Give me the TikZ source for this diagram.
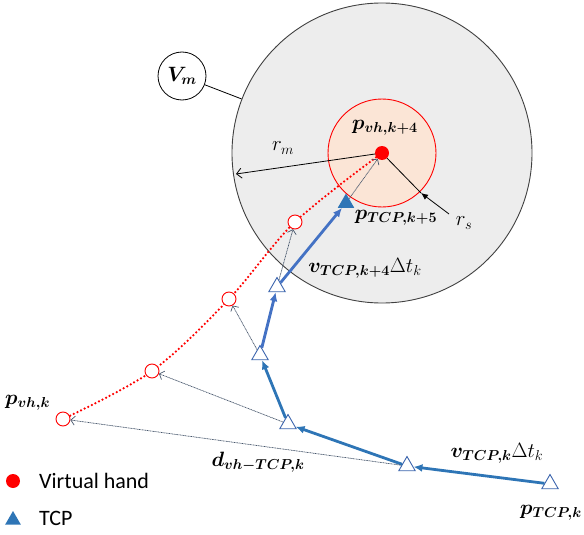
\documentclass[tikz,border=0pt]{standalone}
\usepackage{fontspec}
\usepackage{bm}
\newfontfamily\calib{Carlito}
\usetikzlibrary{arrows.meta,shapes.geometric}
\definecolor{bgray}{HTML}{EDEDED}
\definecolor{peach}{HTML}{FBE5D6}
\definecolor{vred}{HTML}{FF0000}
\definecolor{tblue}{HTML}{2E75B6}
\definecolor{tblueB}{HTML}{4472C4}
\definecolor{tedge}{HTML}{3B64AD}
\definecolor{navy}{HTML}{44546A}
\tikzset{
  hand/.style={circle,draw=vred,fill=white,line width=0.9pt,minimum size=14pt,inner sep=0pt},
  handdot/.style={circle,fill=vred,minimum size=14pt,inner sep=0pt},
  tcp/.style={regular polygon,regular polygon sides=3,draw=tedge,fill=white,line width=0.9pt,minimum size=19pt,inner sep=0pt},
  tcpfill/.style={regular polygon,regular polygon sides=3,fill=tblue,minimum size=19pt,inner sep=0pt},
  move/.style={draw=tblue,line width=2.8pt,-{Latex[length=9pt,width=8pt]}},
  moveB/.style={draw=tblueB,line width=2.8pt,-{Latex[length=9pt,width=8pt]}},
  gap/.style={draw=navy,line width=0.7pt,dash pattern=on 1pt off 0.6pt,-{Straight Barb[length=4pt,width=9pt]}},
  lab/.style={inner sep=0pt,font=\huge},
  leg/.style={inner sep=0pt,anchor=west,font=\calib\fontsize{22}{26}\selectfont},
  radius/.style={draw=black,line width=0.8pt},
}
\begin{document}
\begin{tikzpicture}[x=1pt,y=-1pt]
\useasboundingbox (0,0) rectangle (584,535);
% workspace and safety circles
\node[circle,draw=black!75,fill=bgray,line width=0.9pt,minimum size=300pt,inner sep=0pt] (bigc) at (382,153) {};
\node[circle,draw=vred,fill=peach,line width=0.9pt,minimum size=108pt,inner sep=0pt] (smallc) at (382,153) {};
% V_m label circle
\node[circle,draw=black,fill=white,line width=0.8pt,minimum size=48pt,inner sep=0pt,font=\huge] (Vm) at (182,76) {$\bm{V}_{\bm{m}}$};
\draw[line width=0.8pt] (Vm) -- (bigc);
% positions
\coordinate (H0p) at (63,419);
\coordinate (H1p) at (152,371);
\coordinate (H2p) at (229,299);
\coordinate (H3p) at (295,222);
\coordinate (H4p) at (382,153);
% red dotted trajectory of the virtual hand
\draw[vred,line width=2.5pt,dash pattern=on 0pt off 4pt,line cap=round]
  plot[smooth,tension=0.55] coordinates {(H0p) (H1p) (H2p) (H3p) (H4p)};
% hand nodes
\node[hand] (H0) at (H0p) {};
\node[hand] (H1) at (H1p) {};
\node[hand] (H2) at (H2p) {};
\node[hand] (H3) at (H3p) {};
% TCP nodes
\node[tcp] (T0) at (550,484) {};
\node[tcp] (T1) at (407,466) {};
\node[tcp] (T2) at (288,424) {};
\node[tcp] (T3) at (260,355) {};
\node[tcp] (T4) at (277,287) {};
\node[tcpfill] (T5) at (346,203) {};
% radii
\coordinate (rmEnd) at (236,174);
\draw[radius,-{Straight Barb[length=5pt,width=10pt]}] (H4p) -- (rmEnd);
\coordinate (rsEdge) at (421,193);
\coordinate (rsTail) at (449,214);
\draw[radius] (H4p) -- (rsEdge);
\draw[radius,-{Latex[length=7pt,width=6pt]}] (rsTail) -- (rsEdge);
% red dot
\node[handdot] (H4) at (H4p) {};
% TCP motion
\draw[move] (T0) -- (T1);
\draw[move] (T1) -- (T2);
\draw[move] (T2) -- (T3);
\draw[moveB] (T3) -- (T4);
\draw[moveB] (T4) -- (T5);
% distance vectors
\draw[gap] (T1) -- (H0);
\draw[gap] (T2) -- (H1);
\draw[gap] (T3) -- (H2);
\draw[gap] (T4) -- (H3);
\draw[gap] (T5) -- (H4);
% labels
\node[lab] (Lpvh4) at (385,128) {$\bm{p}_{\bm{vh,k+4}}$};
\node[lab] (Lptcp5) at (396,218) {$\bm{p}_{\bm{TCP,k+5}}$};
\node[lab] (Lrm) at (283,148) {$r_m$};
\node[lab] (Lrs) at (464,223) {$r_s$};
\node[lab] (Lv4) at (365,268) {$\bm{v}_{\bm{TCP,k+4}}\Delta t_k$};
\node[lab] (Lvk) at (497,453) {$\bm{v}_{\bm{TCP,k}}\Delta t_k$};
\node[lab,anchor=east] (Lptcp) at (582,513) {$\bm{p}_{\bm{TCP,k}}$};
\node[lab,anchor=west] (Lpvh) at (5,403) {$\bm{p}_{\bm{vh,k}}$};
\node[lab] (Ld) at (258,462) {$\bm{d}_{\bm{vh-TCP,k}}$};
% legend
\node[handdot] (legH) at (13,481) {};
\node[leg] (legHt) at (39,481) {Virtual hand};
\node[tcpfill,minimum size=18pt] (legT) at (13,520) {};
\node[leg] (legTt) at (39,518) {TCP};
\end{tikzpicture}
\end{document}
